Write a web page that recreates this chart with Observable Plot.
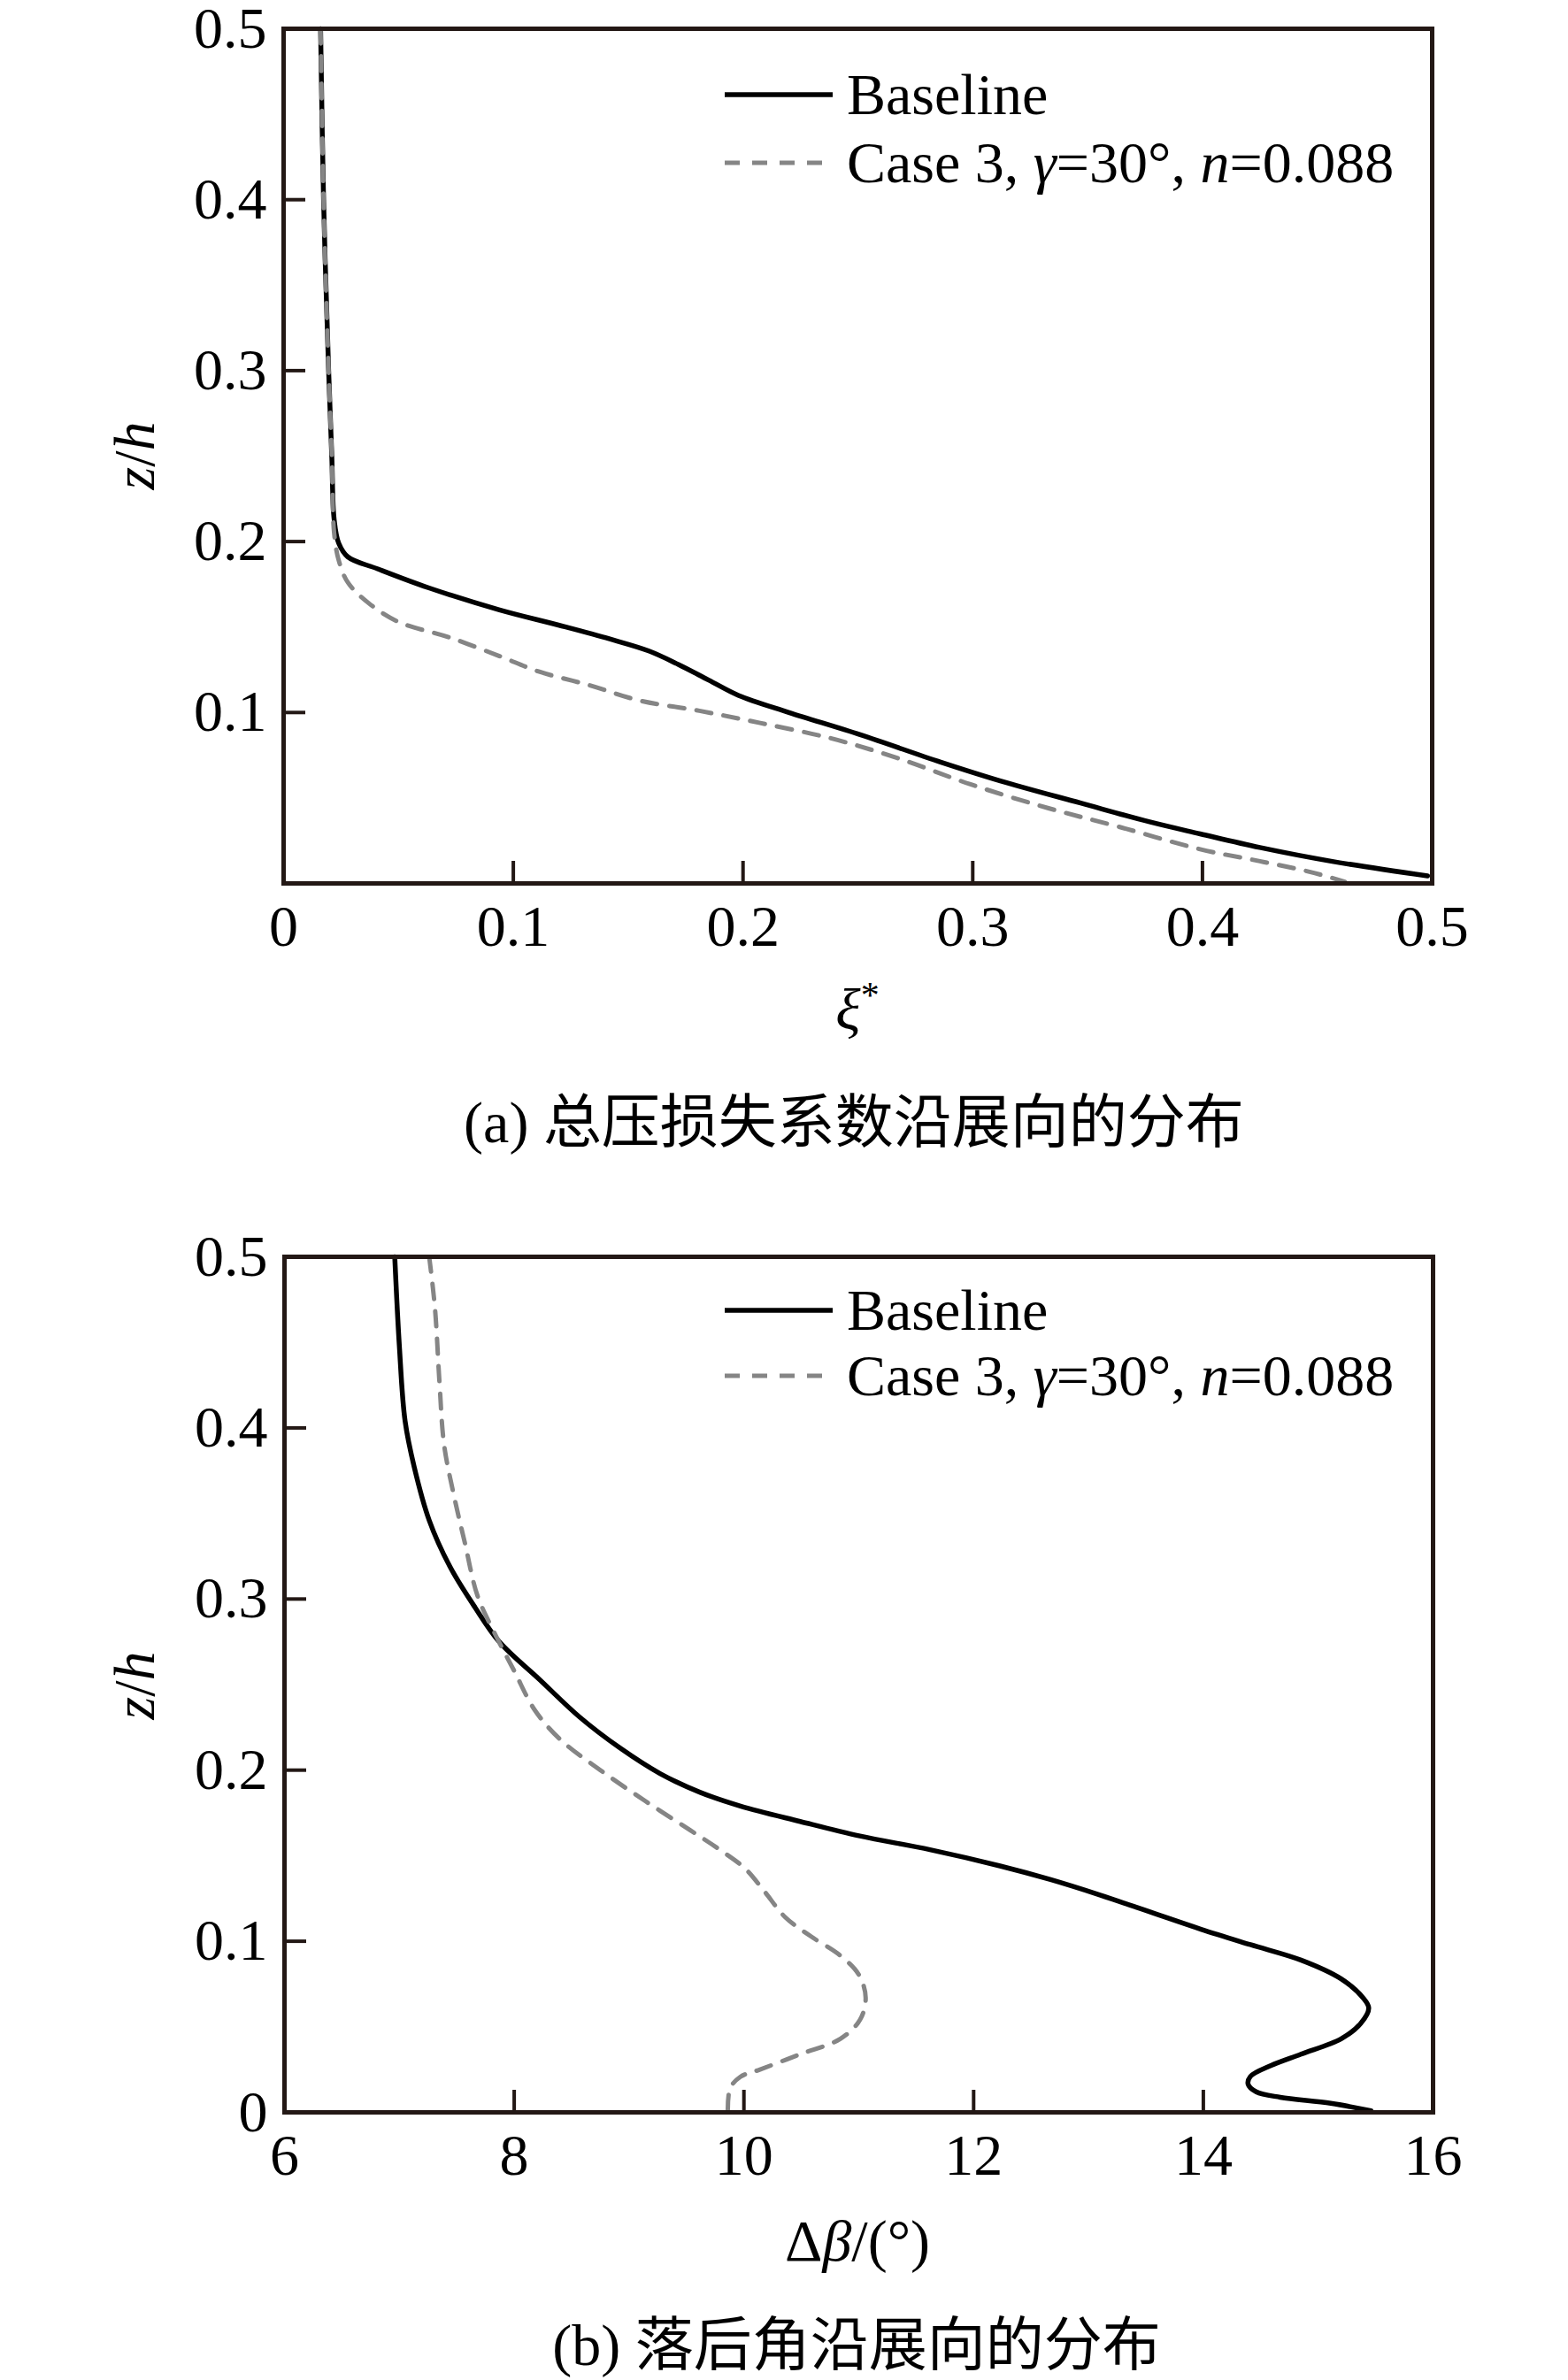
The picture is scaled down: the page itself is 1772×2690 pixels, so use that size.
<!DOCTYPE html>
<html>
<head>
<meta charset="utf-8">
<script src="https://cdn.jsdelivr.net/npm/d3@7"></script>
<script src="https://cdn.jsdelivr.net/npm/@observablehq/plot@0.6"></script>
<style>
  html { margin: 0; padding: 0; background: #fff; width: 1772px; height: 2690px; overflow: hidden; }
  body { margin: 0; padding: 0; background: #fff; width: 1772px; height: 2690px; position: relative; overflow: hidden;
         font-family: "Liberation Serif", "Noto Sans CJK SC", serif; color: #000; }
  .chart { position: absolute; left: 0; }
  .lbl { position: absolute; white-space: nowrap; font-size: 66px; text-align: center;
         width: 1200px; height: 80px; line-height: 80px; overflow: visible; }
  .cjk { font-family: "Noto Sans CJK SC"; font-size: 66px; }
  .leg { position: absolute; display: flex; align-items: center; white-space: nowrap;
         font-size: 66px; line-height: 80px; height: 80px; }
  .leg svg { margin-right: 16px; }
</style>
</head>
<body>
<div id="chartA" class="chart" style="top:0"></div>
<div id="chartB" class="chart" style="top:1340px"></div>

<script>
// ---------- Data (a): total pressure loss coefficient vs span ----------
const aXTicks = [0, 0.1, 0.2, 0.3, 0.4, 0.5];
const aYTicks = [0.1, 0.2, 0.3, 0.4, 0.5];
const aInnerXTicks = [0.1, 0.2, 0.3, 0.4];
const aInnerYTicks = [0.1, 0.2, 0.3, 0.4];

const aBaseXi = [0.0161, 0.0174, 0.0196, 0.021, 0.022, 0.024, 0.028, 0.041, 0.063, 0.094, 0.12, 0.142, 0.159, 0.172, 0.185, 0.198, 0.22, 0.251, 0.286, 0.312, 0.347, 0.377, 0.399, 0.425, 0.456, 0.498];
const aBaseZ  = [0.5, 0.4, 0.3, 0.249, 0.213, 0.199, 0.191, 0.184, 0.173, 0.16, 0.151, 0.143, 0.136, 0.128, 0.119, 0.11, 0.1, 0.087, 0.071, 0.06, 0.047, 0.036, 0.029, 0.021, 0.013, 0.0044];

const aCaseXi = [0.0161, 0.0174, 0.0196, 0.021, 0.022, 0.024, 0.028, 0.037, 0.05, 0.072, 0.094, 0.111, 0.133, 0.155, 0.181, 0.207, 0.238, 0.268, 0.299, 0.333, 0.364, 0.399, 0.425, 0.447, 0.462];
const aCaseZ  = [0.5, 0.4, 0.3, 0.249, 0.205, 0.189, 0.176, 0.164, 0.153, 0.144, 0.133, 0.124, 0.116, 0.107, 0.101, 0.094, 0.085, 0.073, 0.058, 0.044, 0.033, 0.02, 0.013, 0.0067, 0.001];

// ---------- Data (b): deviation angle vs span ----------
const bXTicks = [6, 8, 10, 12, 14, 16];
const bYTicks = [0, 0.1, 0.2, 0.3, 0.4, 0.5];
const bInnerXTicks = [8, 10, 12, 14];
const bInnerYTicks = [0.1, 0.2, 0.3, 0.4];

const bBaseDb = [6.96, 7.0, 7.05, 7.13, 7.26, 7.44, 7.66, 7.87, 8.22, 8.57, 8.92, 9.27, 9.62, 9.97, 10.49, 11.01, 11.62, 12.23, 12.67, 13.1, 13.54, 13.98, 14.41, 14.85, 15.2, 15.39, 15.44, 15.37, 15.2, 14.85, 14.59, 14.41, 14.39, 14.46, 14.67, 15.11, 15.46];
const bBaseZ  = [0.5, 0.448, 0.404, 0.377, 0.346, 0.319, 0.295, 0.275, 0.253, 0.231, 0.213, 0.198, 0.187, 0.179, 0.17, 0.1615, 0.1535, 0.144, 0.136, 0.127, 0.117, 0.107, 0.098, 0.089, 0.078, 0.067, 0.061, 0.052, 0.043, 0.034, 0.0274, 0.021, 0.0164, 0.012, 0.0088, 0.0053, 0.0009];

const bCaseDb = [7.26, 7.31, 7.35, 7.39, 7.48, 7.57, 7.68, 7.83, 8.0, 8.18, 8.4, 8.75, 9.14, 9.53, 9.79, 10.01, 10.18, 10.36, 10.58, 10.84, 11.0, 11.06, 11.01, 10.84, 10.49, 10.14, 9.97, 9.88, 9.86];
const bCaseZ  = [0.5, 0.47, 0.426, 0.39, 0.359, 0.333, 0.302, 0.28, 0.258, 0.235, 0.218, 0.2, 0.182, 0.165, 0.1535, 0.1425, 0.129, 0.114, 0.103, 0.0916, 0.0805, 0.067, 0.054, 0.043, 0.034, 0.025, 0.0208, 0.014, 0.0];

const seriesNames = ["Baseline", "Case 3, γ=30°, n=0.088"];

// ---------- Styling ----------
const FRAME = "#231815";
const BASE_COLOR = "#000000";
const CASE_COLOR = "#858585";
const DASH = "17,14";

function toRows(xs, ys) { return xs.map((x, i) => ({x, y: ys[i]})); }

function makeChart({xDomain, yDomain, xTicks, yTicks, innerX, innerY, base, cas,
                    height, mt, mb, ml, mr}) {
  const innerH = height - mt - mb;
  const innerW = 1772 - ml - mr;
  return Plot.plot({
    width: 1772, height,
    marginTop: mt, marginBottom: mb, marginLeft: ml, marginRight: mr,
    style: {fontFamily: "Liberation Serif", fontSize: "66px", color: "#000", background: "#fff", overflow: "visible"},
    x: {domain: xDomain},
    y: {domain: yDomain},
    marks: [
      Plot.line(base, {x: "x", y: "y", stroke: BASE_COLOR, strokeWidth: 5.5, curve: "catmull-rom"}),
      Plot.line(cas, {x: "x", y: "y", stroke: CASE_COLOR, strokeWidth: 5, strokeDasharray: DASH, curve: "catmull-rom"}),
      Plot.tickX(innerX, {x: d => d, stroke: FRAME, strokeWidth: 4, insetTop: innerH - 25}),
      Plot.tickY(innerY, {y: d => d, stroke: FRAME, strokeWidth: 4, insetRight: innerW - 25}),
      Plot.frame({stroke: FRAME, strokeWidth: 5}),
      Plot.axisX({ticks: xTicks, tickSize: 0, tickPadding: 24, tickFormat: d => String(d), label: null}),
      Plot.axisY({ticks: yTicks, tickSize: 0, tickPadding: 19, tickFormat: d => String(d), label: null})
    ]
  });
}

document.getElementById("chartA").append(makeChart({
  xDomain: [0, 0.5], yDomain: [0, 0.5], xTicks: aXTicks, yTicks: aYTicks,
  innerX: aInnerXTicks, innerY: aInnerYTicks,
  base: toRows(aBaseXi, aBaseZ), cas: toRows(aCaseXi, aCaseZ),
  height: 1100, mt: 32, mb: 102, ml: 320, mr: 154
}));
document.getElementById("chartB").append(makeChart({
  xDomain: [6, 16], yDomain: [0, 0.5], xTicks: bXTicks, yTicks: bYTicks,
  innerX: bInnerXTicks, innerY: bInnerYTicks,
  base: toRows(bBaseDb, bBaseZ), cas: toRows(bCaseDb, bCaseZ),
  height: 1150, mt: 80, mb: 103, ml: 321, mr: 153
}));

// ---------- Text overlays: axis labels, legends, captions ----------
function addLabel(html, cx, cy, rotate = false) {
  const d = document.createElement("div");
  d.className = "lbl";
  d.style.left = (cx - 600) + "px";
  d.style.top = (cy - 40) + "px";
  if (rotate) d.style.transform = "rotate(-90deg)";
  d.innerHTML = html;
  document.body.append(d);
}
function addLegend(x, y, dashed, html) {
  const d = document.createElement("div");
  d.className = "leg";
  d.style.left = x + "px";
  d.style.top = (y - 40) + "px";
  const stroke = dashed ? CASE_COLOR : BASE_COLOR;
  const dash = dashed ? `stroke-dasharray="${DASH}"` : "";
  d.innerHTML = `<svg width="122" height="12"><line x1="0" y1="6" x2="122" y2="6" stroke="${stroke}" stroke-width="${dashed ? 5 : 5.5}" ${dash}/></svg><span>${html}</span>`;
  document.body.append(d);
}

const legendHTML = ["Baseline", "Case 3, <i>γ</i>=30°, <i>n</i>=0.088"];

// chart (a)
addLabel("<i>z</i>/<i>h</i>", 152, 515, true);
addLabel("<i>ξ</i><sup style='font-size:42px;line-height:0;vertical-align:24px'>*</sup>", 969, 1141);
addLegend(819, 107, false, legendHTML[0]);
addLegend(819, 184, true, legendHTML[1]);
addLabel("(a) <span class='cjk'>总压损失系数沿展向的分布</span>", 965, 1262);

// chart (b)
addLabel("<i>z</i>/<i>h</i>", 152, 1905, true);
addLabel("Δ<i>β</i>/(°)", 969, 2533);
addLegend(819, 1481, false, legendHTML[0]);
addLegend(819, 1555, true, legendHTML[1]);
addLabel("(b) <span class='cjk'>落后角沿展向的分布</span>", 968, 2644);
</script>
</body>
</html>
